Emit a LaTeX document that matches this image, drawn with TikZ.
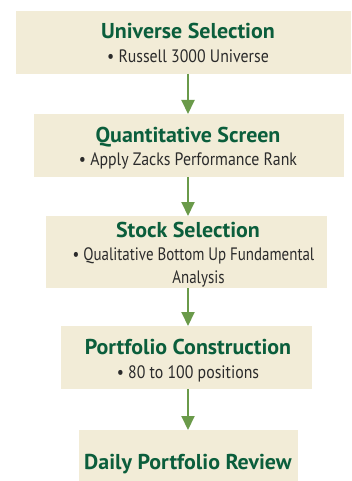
\documentclass[tikz,border=0pt]{standalone}
\usepackage{fontspec}
\setmainfont{PT Sans}
\newfontfamily\condfont[FakeStretch=0.88]{PT Sans}
\newfontfamily\narrowfont[FakeStretch=0.83]{PT Sans}
\newfontfamily\ttlfont[FakeStretch=1.02]{PT Sans}
\usetikzlibrary{arrows.meta}
\definecolor{boxfill}{HTML}{F2ECD7}
\definecolor{titlegreen}{HTML}{0B5E3C}
\definecolor{arrowgreen}{HTML}{6A9A4A}
\definecolor{subgray}{HTML}{2B2B2B}
\tikzset{
  box/.style={fill=boxfill, draw=none, inner sep=0pt, outer sep=0pt},
  ttl/.style={text=titlegreen, font=\ttlfont\fontsize{21.5}{24}\selectfont\bfseries, inner sep=0pt, anchor=base},
  sub/.style={text=subgray, font=\condfont\fontsize{18}{20}\selectfont, inner sep=0pt, anchor=base},
  subn/.style={sub, font=\narrowfont\fontsize{18}{20}\selectfont},
  arr/.style={draw=arrowgreen, line width=2pt, -{Triangle[width=13pt,length=14pt]}, arrowgreen}
}
\begin{document}
\begin{tikzpicture}[x=1pt,y=-1pt]
\useasboundingbox (0,0) rectangle (351,481);
\coordinate (ax) at (188,0);
\node[box, minimum width=335pt, minimum height=63pt] (b1) at (183.5,42.5) {};
\node[box, minimum width=310pt, minimum height=63pt] (b2) at (189,145.5) {};
\node[box, minimum width=281pt, minimum height=72pt] (b3) at (186.5,252) {};
\node[box, minimum width=251pt, minimum height=63pt] (b4) at (186.5,357.5) {};
\node[box, minimum width=219pt, minimum height=51pt] (b5) at (188.5,455.5) {};

\node[ttl] (t1) at (188,39) {Universe Selection};
\node[sub] (s1) at (188,62.7) {• Russell 3000 Universe};
\node[ttl] (t2) at (188,142.3) {Quantitative Screen};
\node[sub] (s2) at (188,165) {• Apply Zacks Performance Rank};
\node[ttl] (t3) at (188,237.7) {Stock Selection};
\node[subn] (s3) at (193.5,260) {• Qualitative Bottom Up Fundamental};
\node[subn] (s3b) at (198.5,283) {Analysis};
\node[ttl] (t4) at (188,354) {Portfolio Construction};
\node[sub] (s4) at (188,378) {• 80 to 100 positions};
\node[ttl] (t5) at (188,469) {Daily Portfolio Review};

\draw[arr] (b1.south -| ax) -- (b2.north -| ax);
\draw[arr] (b2.south -| ax) -- (b3.north -| ax);
\draw[arr] (b3.south -| ax) -- (b4.north -| ax);
\draw[arr] (b4.south -| ax) -- (b5.north -| ax);
\end{tikzpicture}
\end{document}
